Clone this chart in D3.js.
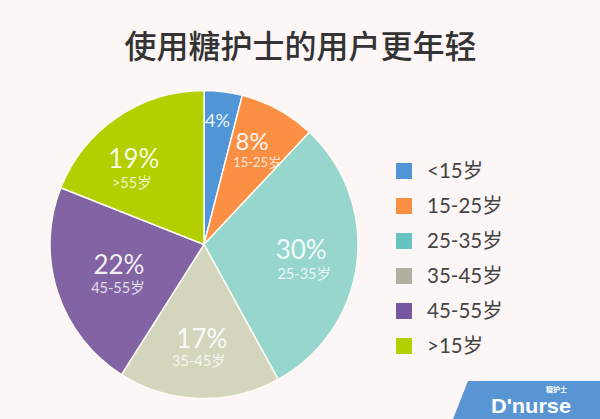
<!DOCTYPE html>
<html>
<head>
<meta charset="utf-8">
<script src="https://cdn.jsdelivr.net/npm/d3@7"></script>
<style>
  html, body { margin: 0; padding: 0; background: #fcf6f6; }
  text { font-family: "Lato", "Noto Sans CJK SC", sans-serif; }
</style>
</head>
<body>
<div id="chart"></div>
<script>
const categories = ['<15岁', '15-25岁', '25-35岁', '35-45岁', '45-55岁', '>55岁'];
const legendLabels = ['<15岁', '15-25岁', '25-35岁', '35-45岁', '45-55岁', '>15岁'];
const shares = [4, 8, 30, 17, 22, 19];
const colors = ['#5096d6', '#fb8f44', '#96d6cd', '#d3d6bd', '#8263a3', '#b4cf00'];
const legendColors = ['#5096d6', '#fb8f44', '#66c4c0', '#b0b0a0', '#76589f', '#b4cf00'];

const width = 600;
const height = 419;
const cx = 204;
const cy = 244.5;
const radius = 154;

const svg = d3.select('#chart')
  .append('svg')
  .attr('width', width)
  .attr('height', height)
  .style('display', 'block');

svg.append('text')
  .attr('x', 300.5)
  .attr('y', 58)
  .attr('text-anchor', 'middle')
  .attr('font-size', 32)
  .attr('font-weight', 500)
  .attr('fill', '#333')
  .style('font-family', '"Noto Sans CJK SC"')
  .text('使用糖护士的用户更年轻');

// 扇形
const pie = d3.pie().sort(null).value(d => d);
const arc = d3.arc().innerRadius(0).outerRadius(radius);
const labelArc = d3.arc().innerRadius(100).outerRadius(100);
const slices = pie(shares);

const g = svg.append('g').attr('transform', `translate(${cx},${cy})`);

g.selectAll('path')
  .data(slices)
  .join('path')
  .attr('d', arc)
  .attr('fill', (d, i) => colors[i])
  .attr('stroke', '#fdfbf4')
  .attr('stroke-width', 1.5);

// 标签相对扇形中线的偏移
const labelShift = [[1, -25], [0, -16], [-2, -7], [1, -6], [10, -11], [-14, -3]];
const subShift = [[0, 0], [5, 21], [3, 24], [-3, 23], [-1, 24], [-2, 24]];
const bigSize = [18, 24, 26, 26, 26, 26];
const subSize = [0, 13, 14.5, 14.5, 14.5, 14.5];

slices.forEach((d, i) => {
  const [px, py] = labelArc.centroid(d);
  const x = px + labelShift[i][0];
  const y = py + labelShift[i][1];

  g.append('text')
    .attr('x', x)
    .attr('y', y + bigSize[i] * 0.36)
    .attr('text-anchor', 'middle')
    .attr('font-size', bigSize[i])
    .attr('fill', '#fff')
    .attr('fill-opacity', 0.92)
    .text(shares[i] + '%');

  if (i > 0) {
    g.append('text')
      .attr('x', x + subShift[i][0])
      .attr('y', y + subShift[i][1] + 5)
      .attr('text-anchor', 'middle')
      .attr('font-size', subSize[i])
      .attr('fill', '#fff')
      .attr('fill-opacity', 0.8)
      .text(categories[i]);
  }
});

// 图例
const legendY = d3.scalePoint()
  .domain(d3.range(legendLabels.length))
  .range([171, 346]);

const legend = svg.append('g');

legend.selectAll('rect')
  .data(legendLabels)
  .join('rect')
  .attr('x', 396)
  .attr('y', (d, i) => legendY(i) - 8)
  .attr('width', 16)
  .attr('height', 16)
  .attr('fill', (d, i) => legendColors[i]);

legend.selectAll('text')
  .data(legendLabels)
  .join('text')
  .attr('x', 427)
  .attr('y', (d, i) => legendY(i) + 7)
  .attr('font-size', 20.5)
  .attr('fill', '#444')
  .text(d => d);

// 角标
svg.append('polygon')
  .attr('points', `${468},${381} ${600},${381} ${600},${419} ${453},${419}`)
  .attr('fill', '#5a95d3');

svg.append('text')
  .attr('x', 491)
  .attr('y', 413)
  .attr('font-size', 21)
  .attr('font-weight', 700)
  .attr('fill', '#fff')
  .attr('textLength', 80)
  .attr('lengthAdjust', 'spacingAndGlyphs')
  .style('font-family', '"Liberation Sans"')
  .text("D'nurse");

svg.append('text')
  .attr('x', 546)
  .attr('y', 392)
  .attr('font-size', 7)
  .attr('font-weight', 700)
  .attr('fill', '#fff')
  .style('font-family', '"Noto Sans CJK SC"')
  .text('糖护士');
</script>
</body>
</html>
